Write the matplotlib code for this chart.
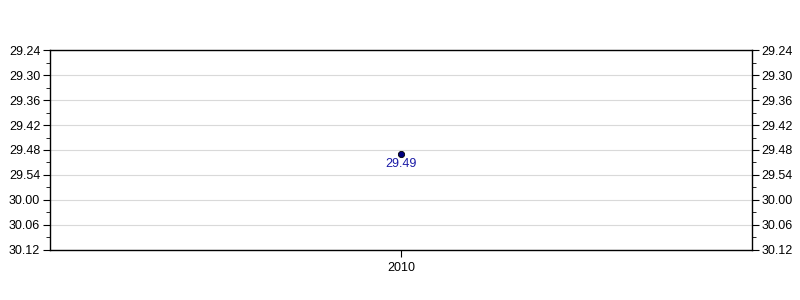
import matplotlib
matplotlib.use('Agg')
import matplotlib.pyplot as plt
from matplotlib.ticker import FuncFormatter, MultipleLocator

plt.rcParams['font.family'] = ['Liberation Sans', 'DejaVu Sans']

# data: race times in minutes.seconds
years = ['2010']
times = ['29.49']

# axis range in minutes.seconds
y_top = '29.24'
y_bottom = '30.12'


def to_seconds(t):
    m, s = t.split('.')
    return int(m) * 60 + int(s)


def fmt_time(v, pos=None):
    v = int(round(v))
    return f'{v // 60}.{v % 60:02d}'


secs = [to_seconds(t) for t in times]

fig = plt.figure(figsize=(8, 3), dpi=100)
ax = fig.add_axes([0.0625, 0.1667, 0.8775, 0.6666])

x = list(range(len(years)))
ax.plot(x, secs, 'o', color='#000080', markeredgecolor='black',
        markeredgewidth=0.6, markersize=4.5, zorder=3)
for xi, s, t in zip(x, secs, times):
    ax.annotate(t, (xi, s), xytext=(0, -7), textcoords='offset points',
                ha='center', va='center', fontsize=9, color='#1a1aa6')

ax.set_xlim(-0.5, len(years) - 0.5)
ax.set_xticks(x)
ax.set_xticklabels(years)
ax.set_ylim(to_seconds(y_bottom), to_seconds(y_top))
ax.yaxis.set_major_locator(MultipleLocator(6))
ax.yaxis.set_minor_locator(MultipleLocator(3))
ax.yaxis.set_major_formatter(FuncFormatter(fmt_time))
ax.grid(axis='y', which='major', color='#d9d9d9', linewidth=0.8)
ax.set_axisbelow(True)

ax.tick_params(axis='y', which='both', left=True, right=True,
               labelleft=True, labelright=True, direction='out',
               labelsize=9, colors='black')
ax.tick_params(axis='y', which='major', length=5, pad=2)
ax.tick_params(axis='y', which='minor', length=3)
ax.tick_params(axis='x', labelsize=9, length=5, direction='out', pad=4)
for sp in ax.spines.values():
    sp.set_linewidth(1)

fig.savefig('out.png', dpi=100)
